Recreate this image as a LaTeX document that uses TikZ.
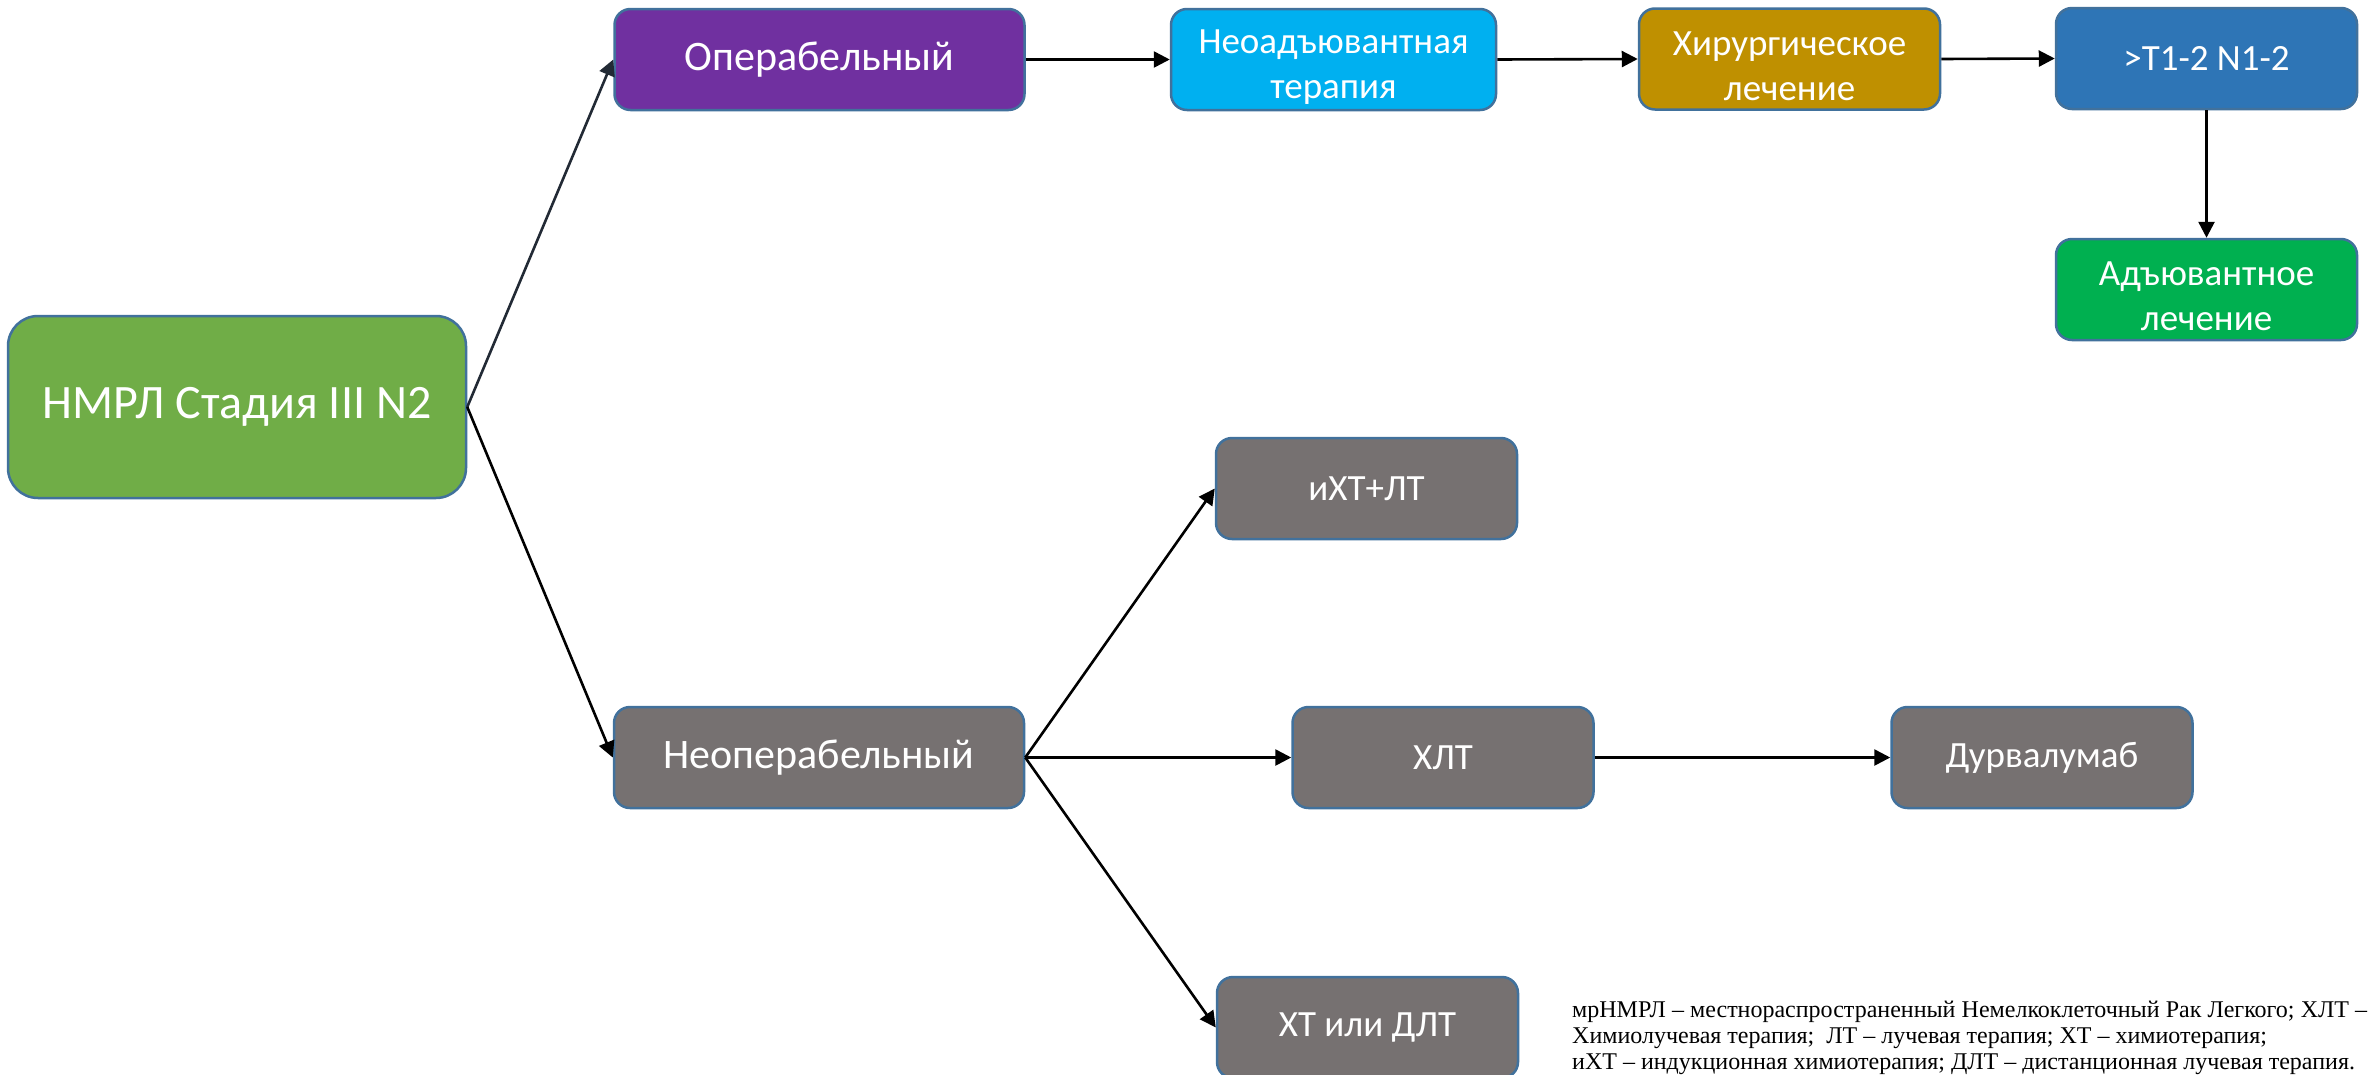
\documentclass[tikz,border=0pt]{standalone}
\usepackage{fontspec}
\setmainfont{Carlito}
\newfontfamily\notefont{Liberation Serif}
\usetikzlibrary{arrows.meta}
\definecolor{bordc}{HTML}{41719C}
\definecolor{cgreen}{HTML}{70AD47}
\definecolor{cpurple}{HTML}{7030A0}
\definecolor{ccyan}{HTML}{00B0F0}
\definecolor{cgold}{HTML}{BF9000}
\definecolor{cblue}{HTML}{2E75B6}
\definecolor{cgreen2}{HTML}{00B050}
\definecolor{cgray}{HTML}{767171}
\definecolor{cslate}{HTML}{222A35}
\newcommand{\toplift}{\rule{0pt}{38pt}}
\tikzset{
  box/.style={rectangle, rounded corners=16pt, draw=bordc, line width=2.5pt,
    text=white, align=center, inner sep=0pt, minimum width=301pt, minimum height=101pt,
    font=\fontsize{37}{45}\selectfont},
  bigtext/.style={font=\fontsize{42}{50}\selectfont},
  hugetext/.style={font=\fontsize{48}{56}\selectfont},
  arr/.style={line width=2.6pt, draw=black, -{Triangle[length=16pt,width=16pt]}},
  note/.style={anchor=base west, inner sep=0pt, align=left,
    font=\notefont\fontsize{24}{26}\selectfont}
}
\begin{document}
\begin{tikzpicture}[x=1pt,y=-1pt]
\useasboundingbox (0,0) rectangle (2369,1074);
\fill[white] (0,0) rectangle (2369,1074);

\node[box, hugetext, fill=cgreen, minimum width=458pt, minimum height=182pt, rounded corners=30pt] (nmrl) at (237,407) {НМРЛ Стадия III N2};
\node[box, bigtext, fill=cpurple, minimum width=410pt] (oper) at (819.5,59.5) {Операбельный};
\node[box, fill=ccyan, minimum width=325pt] (neoadj) at (1333.5,59.5) {\toplift Неоадъювантная\\терапия};
\node[box, fill=cgold] (surg) at (1789.5,59) {\toplift Хирургическое\\лечение};
\node[box, fill=cblue] (tstage) at (2206.5,58.5) {>T1-2 N1-2};
\node[box, fill=cgreen2] (adj) at (2206.5,289.5) {\toplift Адъювантное\\лечение};
\node[box, fill=cgray] (ixt) at (1366.5,488.5) {иХТ+ЛТ};
\node[box, bigtext, fill=cgray, minimum width=410pt] (inop) at (819,757.5) {Неоперабельный};
\node[box, fill=cgray] (hlt) at (1443,757.5) {ХЛТ};
\node[box, fill=cgray] (durv) at (2042,757.5) {Дурвалумаб};
\node[box, fill=cgray] (xt) at (1367.5,1027.5) {ХТ или ДЛТ};

\draw[arr, draw=cslate, -{Triangle[length=16pt,width=16pt,fill=cslate]}] (nmrl.east) -- (oper.west);
\draw[arr] (nmrl.east) -- (inop.west);
\draw[arr] (oper.east) -- (neoadj.west);
\draw[arr] (neoadj.east) -- (surg.west);
\draw[arr] (surg.east) -- (tstage.west);
\draw[arr] (tstage.south) -- (adj.north);
\draw[arr] (inop.east) -- (ixt.west);
\draw[arr] (inop.east) -- (hlt.west);
\draw[arr] (inop.east) -- (xt.west);
\draw[arr] (hlt.east) -- (durv.west);

\node[note] (fn) at (1572,1069) {\makebox[795pt][s]{мрНМРЛ – местнораспространенный Немелкоклеточный Рак Легкого; ХЛТ –}\\
Химиолучевая терапия;\ \ ЛТ – лучевая терапия; ХТ – химиотерапия;\\
иХТ – индукционная химиотерапия; ДЛТ – дистанционная лучевая терапия.};
\end{tikzpicture}
\end{document}
